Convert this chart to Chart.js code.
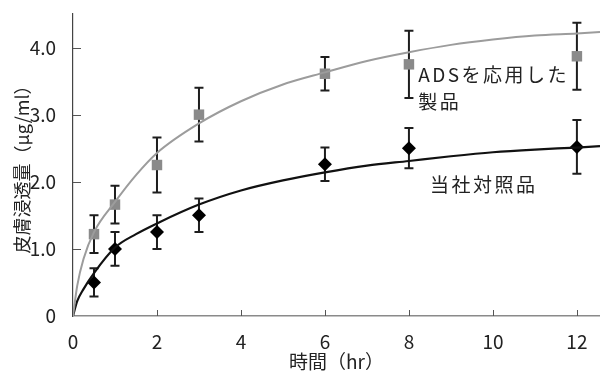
<!DOCTYPE html>
<html>
<head>
<meta charset="utf-8">
<script src="https://cdn.jsdelivr.net/npm/chart.js@4/dist/chart.umd.min.js"></script>
<style>
  html, body { margin: 0; padding: 0; background: #fff; }
  #wrap { width: 600px; height: 372px; position: relative; }
</style>
</head>
<body>
<div id="wrap"><canvas id="chart"></canvas></div>
<script>
// measured hours
const hours = [0.5, 1, 2, 3, 6, 8, 12];

// ADS product (grey squares) and its error bars
const adsMean = [1.22, 1.66, 2.25, 3.0, 3.61, 3.75, 3.87];
const adsErr = [0.28, 0.28, 0.41, 0.4, 0.25, 0.5, 0.5];

// in-house control (black diamonds)
const ctrlMean = [0.5, 1.0, 1.25, 1.5, 2.26, 2.5, 2.52];
const ctrlErr = [0.21, 0.25, 0.25, 0.25, 0.25, 0.3, 0.4];

// fitted curves
const curveX = [0, 0.1, 0.25, 0.5, 1, 1.5, 2, 3, 4, 5, 6, 7, 8, 9, 10, 11, 12, 12.55];
const adsCurve = [0, 0.45, 0.85, 1.25, 1.7, 2.1, 2.43, 2.87, 3.2, 3.45, 3.63, 3.8, 3.93, 4.04, 4.12, 4.18, 4.21, 4.23];
const ctrlCurve = [0, 0.22, 0.4, 0.64, 1.02, 1.22, 1.38, 1.66, 1.87, 2.02, 2.14, 2.24, 2.31, 2.38, 2.44, 2.48, 2.51, 2.53];

const xTicks = [0, 2, 4, 6, 8, 10, 12];
const yTicks = [0, 1, 2, 3, 4];

const FONT = '"Noto Sans CJK JP", "Noto Sans", sans-serif';

const toPoints = (xs, ys) => xs.map((x, i) => ({ x: x, y: ys[i] }));

// error bars with caps, drawn under the markers
const errorBars = {
  id: 'errorBars',
  beforeDatasetsDraw(chart) {
    const { ctx, scales: { x, y } } = chart;
    const groups = [[adsMean, adsErr], [ctrlMean, ctrlErr]];
    ctx.save();
    ctx.strokeStyle = '#1e1e1e';
    ctx.lineWidth = 2;
    groups.forEach(([mean, err]) => {
      hours.forEach((h, i) => {
        const px = x.getPixelForValue(h);
        const top = y.getPixelForValue(mean[i] + err[i]);
        const bot = y.getPixelForValue(mean[i] - err[i]);
        ctx.beginPath();
        ctx.moveTo(px, top); ctx.lineTo(px, bot);
        ctx.moveTo(px - 4.5, top); ctx.lineTo(px + 4.5, top);
        ctx.moveTo(px - 4.5, bot); ctx.lineTo(px + 4.5, bot);
        ctx.stroke();
      });
    });
    ctx.restore();
  }
};

// inward tick marks and series labels
const decorations = {
  id: 'decorations',
  afterDraw(chart) {
    const { ctx, scales: { x, y } } = chart;
    ctx.save();
    ctx.strokeStyle = '#555';
    ctx.lineWidth = 1;
    yTicks.slice(1).forEach(v => {
      const py = Math.round(y.getPixelForValue(v)) + 0.5;
      ctx.beginPath();
      ctx.moveTo(x.left, py); ctx.lineTo(x.left + 8, py);
      ctx.stroke();
    });
    xTicks.slice(1).forEach(v => {
      const px = Math.round(x.getPixelForValue(v)) + 0.5;
      ctx.beginPath();
      ctx.moveTo(px, y.bottom); ctx.lineTo(px, y.bottom - 6);
      ctx.stroke();
    });

    ctx.fillStyle = '#222';
    ctx.font = '19px ' + FONT;
    ctx.textBaseline = 'alphabetic';
    ctx.textAlign = 'left';
    ctx.letterSpacing = '2.5px';
    ctx.fillText('ADSを応用した', x.getPixelForValue(8.22), y.getPixelForValue(3.48));
    ctx.fillText('製品', x.getPixelForValue(8.22), y.getPixelForValue(3.08));
    ctx.fillText('当社対照品', x.getPixelForValue(8.5), y.getPixelForValue(1.85));
    ctx.restore();
  }
};

new Chart(document.getElementById('chart'), {
  type: 'scatter',
  data: {
    datasets: [
      {
        label: 'ADS fit',
        data: toPoints(curveX, adsCurve),
        showLine: true,
        borderColor: '#9c9c9c',
        borderWidth: 2,
        pointRadius: 0,
        cubicInterpolationMode: 'monotone'
      },
      {
        label: 'control fit',
        data: toPoints(curveX, ctrlCurve),
        showLine: true,
        borderColor: '#111',
        borderWidth: 2.2,
        pointRadius: 0,
        cubicInterpolationMode: 'monotone'
      },
      {
        label: 'ADSを応用した製品',
        data: toPoints(hours, adsMean),
        pointStyle: 'rect',
        pointRadius: 7.4,
        backgroundColor: '#8a8a8a',
        borderColor: '#8a8a8a',
        borderWidth: 0
      },
      {
        label: '当社対照品',
        data: toPoints(hours, ctrlMean),
        pointStyle: 'rectRot',
        pointRadius: 7,
        backgroundColor: '#000',
        borderColor: '#000',
        borderWidth: 0
      }
    ]
  },
  options: {
    responsive: true,
    maintainAspectRatio: false,
    animation: false,
    layout: { autoPadding: false, padding: { top: 14, right: -7, left: 0, bottom: 0 } },
    plugins: {
      legend: { display: false },
      tooltip: { enabled: false }
    },
    scales: {
      x: {
        type: 'linear',
        min: 0,
        max: 12.55,
        afterBuildTicks: s => { s.ticks = xTicks.map(v => ({ value: v })); },
        afterFit: s => { s.height = 56; s.paddingRight = 0; s.paddingLeft = 0; },
        grid: { display: false },
        border: { display: true, color: '#8a8a8a', width: 1.5 },
        ticks: {
          color: '#222',
          padding: 6,
          maxRotation: 0,
          font: { family: FONT, size: 19 },
          callback: v => String(v)
        },
        title: {
          display: true,
          text: '時間（hr）',
          color: '#222',
          padding: { top: 0, bottom: -1 },
          font: { family: FONT, size: 19 }
        }
      },
      y: {
        type: 'linear',
        min: 0,
        max: 4.5,
        afterBuildTicks: s => { s.ticks = yTicks.map(v => ({ value: v })); },
        afterFit: s => { s.width = 73; s.paddingTop = 0; s.paddingBottom = 0; },
        grid: { display: false },
        border: { display: true, color: '#444', width: 1.2 },
        ticks: {
          color: '#222',
          padding: 9,
          font: { family: FONT, size: 19 },
          callback: v => v === 0 ? '0' : v.toFixed(1)
        },
        title: {
          display: true,
          text: '皮膚浸透量（μg/ml）',
          color: '#222',
          padding: { top: 11, bottom: 0 },
          font: { family: FONT, size: 18 }
        }
      }
    }
  },
  plugins: [errorBars, decorations]
});
</script>
</body>
</html>
